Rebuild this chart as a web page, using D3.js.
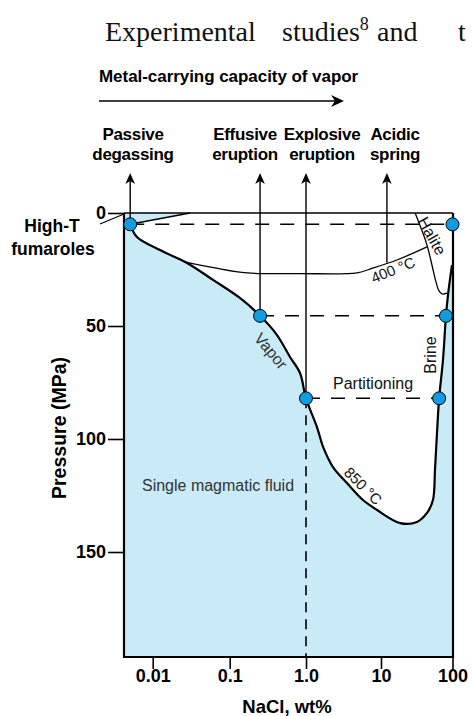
<!DOCTYPE html>
<html><head><meta charset="utf-8">
<script src="https://cdn.jsdelivr.net/npm/d3@7"></script>
<style>body{margin:0;background:#fff;} svg{display:block;}</style>
</head><body><svg id="c" width="472" height="716"></svg>
<script>
// ---------- data (NaCl wt%, pressure MPa) ----------
const xTickValues = [0.01, 0.1, 1, 10, 100];
const xTickLabels = ["0.01", "0.1", "1.0", "10", "100"];
const yTickValues = [0, 50, 100, 150];
// 850 °C two-phase boundary: vapor limb -> minimum -> brine limb
const solvus850 = [[0.0051,5],[0.00625,10.6],[0.01245,16.4],[0.0279,22.1],[0.0607,29.6],[0.136,37.6],[0.25,45.5],[0.417,54],[0.617,63.7],[0.834,70.8],[1.0,82],[1.40,94.7],[1.69,103.5],[2.29,112.4],[3.52,119.5],[5.75,127],[8.85,131.4],[18.5,137.2],[31.8,136.7],[44,132.7],[53.3,127],[56.9,113.7],[60.7,97.3],[65,82],[73.6,65],[81,45.5],[86.5,36.3],[98.4,23]];
const isotherm400 = [[0.0271,21.7],[0.0644,24.3],[0.169,26.5],[0.834,26.8],[4.79,26.5],[7.13,24.8],[16.7,20.8],[44,15]];
const haliteSat = [[30,0],[36.2,6.6],[44,14.2],[51.6,23],[58.7,30.5],[64.7,34.5],[71.3,35.8],[84,35.5]];
const vaporHaliteEdge = [[0.0051,5],[0.0305,0]];
const phasePoints = [[0.0051,5],[100,5],[0.25,45.5],[81,45.5],[1.0,82],[65,82]];
const tieLines = [[0.0051,100,5],[0.25,81,45.5],[1.0,65,82]];
const processNames = [["Passive","degassing"],["Effusive","eruption"],["Explosive","eruption"],["Acidic","spring"]];
const processSalinity = [0.0051, 0.25, 1.0, 12.1];
const processPressure = [5, 45.5, 82, 22];

// ---------- layout ----------
const F = {left:124, right:453, top:213, bottom:657};
const SANS = "'Liberation Sans', Arial, Helvetica, sans-serif";
const SERIF = "'Liberation Serif', 'Times New Roman', serif";
const BLUE_FILL = "#c9ebf8", DOT = "#0f9ce2";
const labelCenters = [133, 245, 322, 395];

const svg = d3.select("#c");
const x = d3.scaleLog().domain(xTickValues).range([152.7,229.7,306,381,452.5]);
const y = d3.scaleLinear().domain([0,150]).range([213,552]);
const line = d3.line().x(d=>x(d[0])).y(d=>y(d[1])).curve(d3.curveCatmullRom.alpha(0.5));
const straight = d3.line().x(d=>x(d[0])).y(d=>y(d[1]));

// header text (justified line of body text)
const head = svg.append("text").attr("y",41).attr("font-family",SERIF).attr("font-size",28).attr("fill","#111");
head.append("tspan").attr("x",105).text("Experimental");
head.append("tspan").attr("x",282).text("studies");
head.append("tspan").attr("dy",-11).attr("font-size",18).text("8");
head.append("tspan").attr("x",377).attr("dy",11).text("and");
head.append("tspan").attr("x",458).text("t");

svg.append("text").attr("x",99).attr("y",82).attr("font-family",SANS).attr("font-weight","bold")
  .attr("font-size",17).attr("letter-spacing",-0.05).text("Metal-carrying capacity of vapor");
svg.append("line").attr("x1",99).attr("x2",336).attr("y1",101).attr("y2",101).attr("stroke","#000").attr("stroke-width",1.6);
svg.append("path").attr("d","M344,101 L331,95 L335,101 L331,107 Z").attr("fill","#000");

// plot background
svg.append("rect").attr("x",F.left).attr("y",F.top).attr("width",F.right-F.left).attr("height",F.bottom-F.top).attr("fill",BLUE_FILL);
const last = solvus850[solvus850.length-1];
svg.append("path")
  .attr("d", line(solvus850) + `L${F.right},${y(last[1])}L${F.right},${F.top}L${x(vaporHaliteEdge[1][0])},${F.top}Z`)
  .attr("fill","#fff");

// isotherms & boundaries
svg.append("path").attr("d",line(isotherm400)).attr("fill","none").attr("stroke","#000").attr("stroke-width",1.3);
svg.append("path").attr("d",line(haliteSat)).attr("fill","none").attr("stroke","#000").attr("stroke-width",1.3);
svg.append("path").attr("d",straight(vaporHaliteEdge)).attr("fill","none").attr("stroke","#000").attr("stroke-width",1.6);

// tie lines (partitioning)
tieLines.forEach(t=>{
  svg.append("line").attr("x1",x(t[0])).attr("x2",x(t[1])).attr("y1",y(t[2])).attr("y2",y(t[2]))
    .attr("stroke","#000").attr("stroke-width",1.5).attr("stroke-dasharray","14,11");
});
// vertical dashed from explosive point down
svg.append("line").attr("x1",x(1)).attr("x2",x(1)).attr("y1",y(82)).attr("y2",F.bottom)
  .attr("stroke","#000").attr("stroke-width",1.6).attr("stroke-dasharray","10,7");

// process arrows
processSalinity.forEach((s,i)=>{
  const xa = x(s);
  svg.append("line").attr("x1",xa).attr("x2",xa).attr("y1",180).attr("y2",y(processPressure[i])).attr("stroke","#000").attr("stroke-width",1.4);
  svg.append("path").attr("d",`M${xa},173 L${xa-4.8},184 L${xa},181 L${xa+4.8},184 Z`).attr("fill","#000");
  const t = svg.append("text").attr("font-family",SANS).attr("font-weight","bold").attr("font-size",17)
    .attr("text-anchor","middle").attr("letter-spacing",-0.3);
  t.append("tspan").attr("x",labelCenters[i]).attr("y",140).text(processNames[i][0]);
  t.append("tspan").attr("x",labelCenters[i]).attr("y",160).text(processNames[i][1]);
});

// solvus stroke
svg.append("path").attr("d",line(solvus850)).attr("fill","none").attr("stroke","#000").attr("stroke-width",2.2);

// frame
svg.append("line").attr("x1",F.left).attr("x2",F.right).attr("y1",F.top).attr("y2",F.top).attr("stroke","#000").attr("stroke-width",1.5);
svg.append("path").attr("d",`M${F.left},${F.top}V${F.bottom}H${F.right}V${F.top}`).attr("fill","none").attr("stroke","#000").attr("stroke-width",2.2);

// axes
const gx = svg.append("g").attr("transform",`translate(0,${F.bottom})`)
  .call(d3.axisBottom(x).tickValues(xTickValues).tickFormat((d,i)=>xTickLabels[i]).tickSize(12).tickPadding(0));
const gy = svg.append("g").attr("transform",`translate(${F.left},0)`)
  .call(d3.axisLeft(y).tickValues(yTickValues).tickSize(16).tickPadding(2));
[gx,gy].forEach(g=>{
  g.select(".domain").remove();
  g.attr("font-family",SANS).attr("font-size",18).attr("font-weight","bold");
  g.selectAll(".tick line").attr("stroke","#000").attr("stroke-width",1.6);
  g.selectAll(".tick text").attr("fill","#000");
});

svg.append("text").attr("x",287).attr("y",713).attr("text-anchor","middle").attr("font-family",SANS)
  .attr("font-weight","bold").attr("font-size",18.5).text("NaCl, wt%");
svg.append("text").attr("transform","translate(66,428) rotate(-90)").attr("text-anchor","middle").attr("font-family",SANS)
  .attr("font-weight","bold").attr("font-size",19.5).text("Pressure (MPa)");

// High-T fumaroles
const hf = svg.append("text").attr("font-family",SANS).attr("font-weight","bold").attr("font-size",17.5).attr("text-anchor","middle");
hf.append("tspan").attr("x",52).attr("y",232).text("High-T");
hf.append("tspan").attr("x",53).attr("y",255).text("fumaroles");
svg.append("line").attr("x1",100).attr("y1",224).attr("x2",F.left).attr("y2",F.top+1).attr("stroke","#000").attr("stroke-width",1.2);

// phase points
svg.selectAll("circle.pt").data(phasePoints).join("circle").attr("class","pt")
  .attr("cx",d=>x(d[0])).attr("cy",d=>y(d[1])).attr("r",6.5)
  .attr("fill",DOT).attr("stroke","#000").attr("stroke-width",1);

// annotations
const ann = [
  {t:"Vapor", x:271, y:351, r:50, s:16, c:"#333"},
  {t:"Brine", x:430, y:355, r:-90, s:16, c:"#111"},
  {t:"Halite", x:432, y:236, r:61, s:16, c:"#111"},
  {t:"400 °C", x:393, y:270, r:-22, s:15, c:"#111"},
  {t:"850 °C", x:363, y:486, r:45, s:15, c:"#111"},
  {t:"Partitioning", x:373, y:383, r:0, s:16, c:"#111"},
  {t:"Single magmatic fluid", x:218, y:485, r:0, s:16, c:"#333"}
];
ann.forEach(a=>{
  svg.append("text").attr("transform",`translate(${a.x},${a.y}) rotate(${a.r})`).attr("text-anchor","middle")
    .attr("dy","0.35em").attr("font-family",SANS).attr("font-size",a.s).attr("fill",a.c).text(a.t);
});
</script></body></html>
